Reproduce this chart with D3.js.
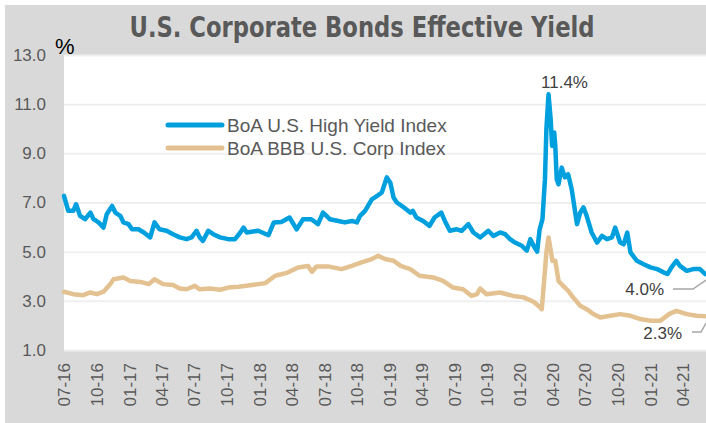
<!DOCTYPE html>
<html>
<head>
<meta charset="utf-8">
<script src="https://cdn.jsdelivr.net/npm/d3@7"></script>
<style>
  body { margin: 0; background: #fff; }
  svg text { font-family: "Liberation Sans", Arial, sans-serif; }
</style>
</head>
<body>
<div id="chart"></div>
<script>
const WIDTH = 706, HEIGHT = 423;
const PLOT = { left: 64, right: 706, top: 55, bottom: 350 };

// series values (effective yield, %)
const hyDates = [
  "2016-07-01","2016-07-13","2016-07-27","2016-08-04","2016-08-15","2016-08-29","2016-09-13","2016-09-22",
  "2016-10-06","2016-10-20","2016-10-29","2016-11-13","2016-11-22","2016-12-06","2016-12-15","2016-12-29",
  "2017-01-08","2017-01-26","2017-02-10","2017-02-28","2017-03-12","2017-03-26","2017-04-15","2017-05-03",
  "2017-05-22","2017-06-10","2017-06-24","2017-07-08","2017-07-17","2017-07-26","2017-08-10","2017-08-24",
  "2017-09-12","2017-10-05","2017-10-24","2017-11-08","2017-11-17","2017-11-26","2017-12-28","2018-01-26",
  "2018-02-10","2018-03-03","2018-03-26","2018-04-15","2018-05-03","2018-05-26","2018-06-14","2018-06-28",
  "2018-07-17","2018-08-10","2018-08-28","2018-09-17","2018-10-01","2018-10-10","2018-10-24","2018-11-12",
  "2018-11-30","2018-12-10","2018-12-24","2019-01-03","2019-01-12","2019-01-21","2019-02-10","2019-02-28",
  "2019-03-07","2019-03-17","2019-04-05","2019-04-23","2019-05-07","2019-05-26","2019-06-05","2019-06-19",
  "2019-07-08","2019-07-22","2019-08-10","2019-08-24","2019-09-12","2019-10-05","2019-10-19","2019-11-07",
  "2019-11-21","2019-12-05","2019-12-19","2020-01-07","2020-01-21","2020-01-31","2020-02-09","2020-02-19",
  "2020-02-26","2020-03-05","2020-03-12","2020-03-16","2020-03-22","2020-03-28","2020-04-01","2020-04-07",
  "2020-04-10","2020-04-14","2020-04-19","2020-04-28","2020-05-07","2020-05-16","2020-05-26","2020-06-05",
  "2020-06-10","2020-06-19","2020-06-28","2020-07-07","2020-07-21","2020-08-05","2020-08-19","2020-09-02",
  "2020-09-16","2020-09-25","2020-10-09","2020-10-19","2020-10-29","2020-11-07","2020-11-25","2020-12-14",
  "2021-01-02","2021-01-21","2021-02-09","2021-02-19","2021-03-02","2021-03-16","2021-03-26","2021-04-14",
  "2021-05-02","2021-05-21","2021-06-05"
];
const hyYield = [
  7.27, 6.66, 6.66, 6.93, 6.46, 6.32, 6.59, 6.32,
  6.19, 5.98, 6.52, 6.86, 6.59, 6.46, 6.19, 6.12,
  5.91, 5.91, 5.78, 5.58, 6.19, 5.91, 5.85, 5.71,
  5.58, 5.51, 5.58, 5.85, 5.58, 5.44, 5.85, 5.71,
  5.58, 5.51, 5.51, 5.78, 5.98, 5.78, 5.85, 5.67,
  6.19, 6.21, 6.39, 5.91, 6.32, 6.32, 6.12, 6.59,
  6.32, 6.25, 6.19, 6.25, 6.19, 6.46, 6.66, 7.13,
  7.30, 7.41, 8.02, 7.80, 7.20, 7.00, 6.80, 6.59,
  6.66, 6.39, 6.25, 6.05, 6.39, 6.59, 6.25, 5.85,
  5.91, 5.85, 6.12, 5.78, 5.58, 5.85, 5.64, 5.78,
  5.71, 5.51, 5.37, 5.24, 5.04, 5.51, 5.24, 5.00,
  5.90, 6.32, 7.95, 9.98, 11.40, 10.39, 9.30, 9.85,
  9.30, 7.95, 7.74, 8.42, 8.02, 8.15, 7.54, 6.59,
  6.12, 6.59, 6.80, 6.46, 5.78, 5.37, 5.64, 5.51,
  5.58, 5.98, 5.37, 5.30, 5.78, 4.97, 4.63, 4.49,
  4.36, 4.29, 4.15, 4.09, 4.36, 4.63, 4.42, 4.22,
  4.29, 4.29, 4.09
];
const bbbDates = [
  "2016-07-01","2016-07-27","2016-08-24","2016-09-13","2016-10-01","2016-10-20","2016-11-08","2016-11-17",
  "2016-12-15","2017-01-03","2017-02-01","2017-02-24","2017-03-12","2017-04-05","2017-05-03","2017-05-22",
  "2017-06-10","2017-07-03","2017-07-17","2017-08-15","2017-09-12","2017-10-05","2017-11-03","2017-12-10",
  "2018-01-17","2018-02-14","2018-03-21","2018-04-19","2018-05-17","2018-05-28","2018-06-10","2018-07-12",
  "2018-08-19","2018-09-17","2018-10-14","2018-11-12","2018-11-30","2018-12-19","2019-01-12","2019-02-01",
  "2019-02-28","2019-03-26","2019-05-03","2019-05-31","2019-06-28","2019-07-26","2019-08-19","2019-09-03",
  "2019-09-12","2019-09-30","2019-11-07","2019-12-14","2020-01-12","2020-02-09","2020-02-28","2020-03-03",
  "2020-03-10","2020-03-16","2020-03-22","2020-04-02","2020-04-10","2020-04-19","2020-05-02","2020-05-16",
  "2020-05-30","2020-06-19","2020-07-07","2020-07-26","2020-08-14","2020-09-12","2020-10-09","2020-11-07",
  "2020-12-05","2021-01-02","2021-01-30","2021-02-23","2021-03-16","2021-04-14","2021-05-12","2021-06-05"
];
const bbbYield = [
  3.37, 3.27, 3.23, 3.34, 3.27, 3.37, 3.68, 3.88,
  3.95, 3.81, 3.77, 3.68, 3.88, 3.68, 3.64, 3.50,
  3.47, 3.61, 3.47, 3.50, 3.45, 3.54, 3.57, 3.64,
  3.72, 4.02, 4.15, 4.36, 4.42, 4.18, 4.40, 4.40,
  4.29, 4.42, 4.56, 4.70, 4.83, 4.70, 4.63, 4.42,
  4.29, 4.02, 3.95, 3.81, 3.54, 3.47, 3.20, 3.27,
  3.50, 3.27, 3.34, 3.20, 3.14, 2.96, 2.73, 2.66,
  3.88, 4.97, 5.58, 4.63, 4.63, 3.81, 3.61, 3.41,
  3.14, 2.80, 2.66, 2.46, 2.32, 2.39, 2.46, 2.39,
  2.26, 2.19, 2.19, 2.46, 2.59, 2.46, 2.39, 2.37
];
const yTicks = [1, 3, 5, 7, 9, 11, 13];
const seriesNames = ["BoA U.S. High Yield Index", "BoA BBB U.S. Corp Index"];
const seriesColors = ["#00a0df", "#e4c190"];
const peakLabel = "11.4%", hyEndLabel = "4.0%", bbbEndLabel = "2.3%";

const parse = d3.timeParse("%Y-%m-%d");
const hy = hyDates.map((d, i) => ({ date: parse(d), value: hyYield[i] }));
const bbb = bbbDates.map((d, i) => ({ date: parse(d), value: bbbYield[i] }));

const svg = d3.select("#chart").append("svg")
  .attr("width", WIDTH)
  .attr("height", HEIGHT);

// frame
svg.append("rect").attr("x", 5).attr("y", 5)
  .attr("width", WIDTH - 5).attr("height", HEIGHT - 5)
  .attr("fill", "#d9d9d9");
svg.append("rect").attr("x", PLOT.left).attr("y", PLOT.top)
  .attr("width", PLOT.right - PLOT.left).attr("height", PLOT.bottom - PLOT.top)
  .attr("fill", "#ffffff");

const x = d3.scaleTime()
  .domain([new Date(2016, 6, 1), new Date(2021, 5, 7)])
  .range([PLOT.left, PLOT.right]);
const y = d3.scaleLinear()
  .domain([1, 13])
  .range([PLOT.bottom, PLOT.top]);

// gridlines
svg.append("g")
  .attr("transform", `translate(${PLOT.left},0)`)
  .call(d3.axisLeft(y).tickValues(yTicks).tickSize(-(PLOT.right - PLOT.left)).tickFormat(""))
  .call(g => g.select(".domain").remove())
  .call(g => g.selectAll("line").attr("stroke", "#efefef").attr("stroke-width", 2));

// y labels
svg.append("g")
  .attr("transform", `translate(${PLOT.left},0)`)
  .call(d3.axisLeft(y).tickValues(yTicks).tickSize(0).tickPadding(18).tickFormat(d3.format(".1f")))
  .call(g => g.select(".domain").remove())
  .call(g => g.selectAll("text")
    .attr("fill", "#595959")
    .style("font-size", "17px")
    .style("font-family", "'Liberation Sans', Arial, sans-serif"));

svg.append("text")
  .attr("x", 55).attr("y", 54)
  .attr("fill", "#000")
  .style("font-size", "22px")
  .text("%");

// x labels, quarterly
const xTicks = d3.timeMonth.range(new Date(2016, 6, 1), new Date(2021, 5, 1), 3);
svg.append("g")
  .attr("transform", `translate(0,${PLOT.bottom})`)
  .call(d3.axisBottom(x).tickValues(xTicks).tickSize(0).tickFormat(d3.timeFormat("%m-%y")))
  .call(g => g.select(".domain").remove())
  .call(g => g.selectAll("text")
    .attr("fill", "#595959")
    .attr("transform", "rotate(-90)")
    .attr("text-anchor", "end")
    .attr("x", -13)
    .attr("y", 0)
    .attr("dy", "0.35em")
    .style("font-size", "17px")
    .style("font-family", "'Liberation Sans', Arial, sans-serif"));

// lines
const line = d3.line().x(d => x(d.date)).y(d => y(d.value));
[bbb, hy].forEach((data, i) => {
  svg.append("path")
    .datum(data)
    .attr("fill", "none")
    .attr("stroke", seriesColors[1 - i])
    .attr("stroke-width", 4.5)
    .attr("stroke-linejoin", "round")
    .attr("stroke-linecap", "round")
    .attr("d", line);
});

// legend
const legend = svg.append("g");
seriesNames.forEach((name, i) => {
  const ly = 125 + i * 23;
  legend.append("line")
    .attr("x1", 168).attr("x2", 222).attr("y1", ly).attr("y2", ly)
    .attr("stroke", seriesColors[i]).attr("stroke-width", 5)
    .attr("stroke-linecap", "round");
  legend.append("text")
    .attr("x", 227).attr("y", ly + 6.5)
    .attr("fill", "#595959")
    .style("font-size", "19px")
    .text(name);
});

// annotations
const peak = hy.reduce((a, b) => (b.value > a.value ? b : a));
svg.append("text")
  .attr("x", x(peak.date) + 16).attr("y", y(peak.value) - 6)
  .attr("text-anchor", "middle")
  .attr("fill", "#404040")
  .style("font-size", "17px")
  .text(peakLabel);

const leader = d3.line();
svg.append("text")
  .attr("x", 664).attr("y", 295)
  .attr("text-anchor", "end")
  .attr("fill", "#404040")
  .style("font-size", "17px")
  .text(hyEndLabel);
svg.append("path")
  .attr("d", leader([[673, 289], [693, 289], [706, 280]]))
  .attr("fill", "none").attr("stroke", "#a6a6a6").attr("stroke-width", 1.5);

svg.append("text")
  .attr("x", 682).attr("y", 339)
  .attr("text-anchor", "end")
  .attr("fill", "#404040")
  .style("font-size", "17px")
  .text(bbbEndLabel);
svg.append("path")
  .attr("d", leader([[692, 332], [701, 332], [706, 323]]))
  .attr("fill", "none").attr("stroke", "#a6a6a6").attr("stroke-width", 1.5);

// title
svg.append("text")
  .attr("x", 362).attr("y", 37)
  .attr("text-anchor", "middle")
  .attr("fill", "#595959")
  .attr("textLength", 465)
  .attr("lengthAdjust", "spacingAndGlyphs")
  .style("font-family", "'Liberation Sans Narrow', 'DejaVu Sans Condensed', 'Liberation Sans', sans-serif")
  .style("font-weight", "bold")
  .style("font-stretch", "condensed")
  .style("font-size", "29px")
  .text("U.S. Corporate Bonds Effective Yield");
</script>
</body>
</html>
